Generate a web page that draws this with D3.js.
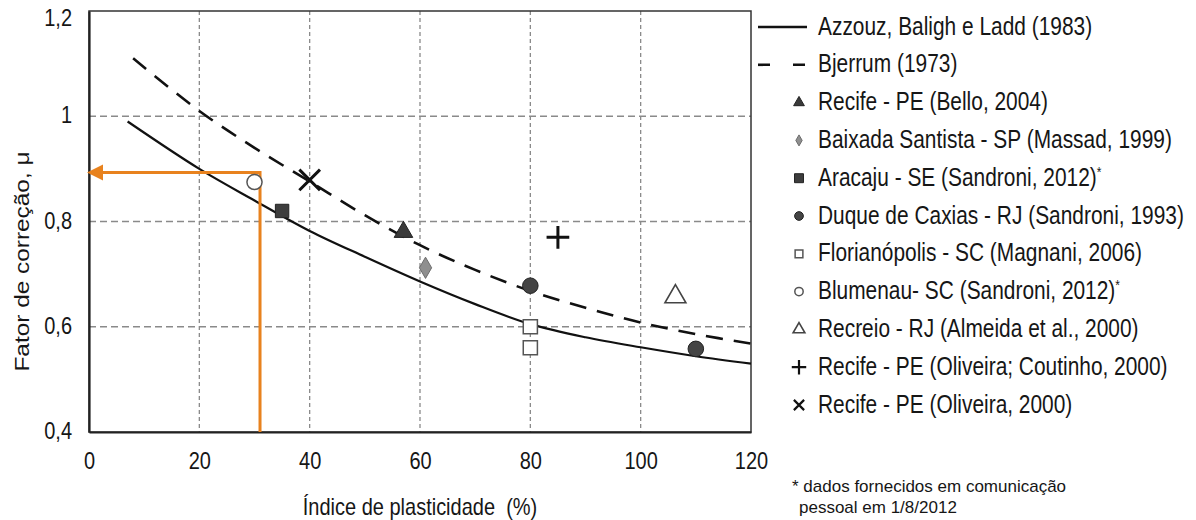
<!DOCTYPE html>
<html>
<head>
<meta charset="utf-8">
<script src="https://cdn.jsdelivr.net/npm/d3@7"></script>
<style>
  html, body { margin: 0; padding: 0; background: #fff; }
  svg { display: block; font-family: "Liberation Sans", Arial, sans-serif; }
</style>
</head>
<body>
<svg id="chart" width="1196" height="520"></svg>
<script>
// Curves
const ipAzzouz = [7, 20, 30, 40, 50, 60, 70, 80, 90, 100, 110, 120];
const muAzzouz = [0.99, 0.90, 0.84, 0.782, 0.733, 0.686, 0.643, 0.605, 0.580, 0.561, 0.544, 0.530];
const ipBjerrum = [8, 20, 30, 40, 50, 60, 70, 80, 90, 100, 110, 120];
const muBjerrum = [1.11, 1.01, 0.94, 0.876, 0.812, 0.755, 0.708, 0.668, 0.636, 0.608, 0.586, 0.568];

// Points
const ipBello = [57], muBello = [0.78];
const ipMassad = [61], muMassad = [0.712];
const ipAracaju = [35], muAracaju = [0.82];
const ipDuque = [80, 110], muDuque = [0.678, 0.558];
const ipFloripa = [80, 80], muFloripa = [0.60, 0.56];
const ipBlumenau = [30], muBlumenau = [0.875];
const ipRecreio = [106.3], muRecreio = [0.657];
const ipCoutinho = [85], muCoutinho = [0.77];
const ipOliveira = [40], muOliveira = [0.879];

// Orange reading guide
const guideIP = 31, guideMu = 0.893;

const xTicks = [0, 20, 40, 60, 80, 100, 120];
const yTicks = [0.4, 0.6, 0.8, 1, 1.2];
const xGrid = [20, 40, 60, 80, 100];
const yGrid = [0.6, 0.8, 1];

const legendLabels = [
  "Azzouz, Baligh e Ladd (1983)",
  "Bjerrum (1973)",
  "Recife - PE (Bello, 2004)",
  "Baixada Santista - SP (Massad, 1999)",
  "Aracaju - SE (Sandroni, 2012)*",
  "Duque de Caxias - RJ (Sandroni, 1993)",
  "Florianópolis - SC (Magnani, 2006)",
  "Blumenau- SC (Sandroni, 2012)*",
  "Recreio - RJ (Almeida et al., 2000)",
  "Recife - PE (Oliveira; Coutinho, 2000)",
  "Recife - PE (Oliveira, 2000)"
];

const svg = d3.select("#chart");
const x = d3.scaleLinear().domain([0, 120]).range([89, 751]);
const y = d3.scaleLinear().domain([0.4, 1.2]).range([432, 11]);

const ink = "#161616";
const stretch = 1.2; // the scan is taller than wide

// grid
svg.append("g").selectAll("line").data(xGrid).join("line")
  .attr("x1", d => x(d)).attr("x2", d => x(d))
  .attr("y1", y(1.2)).attr("y2", y(0.4))
  .attr("stroke", "#8a8a8a").attr("stroke-width", 1.3).attr("stroke-dasharray", "4,3");
svg.append("g").selectAll("line").data(yGrid).join("line")
  .attr("x1", x(0)).attr("x2", x(120))
  .attr("y1", d => y(d)).attr("y2", d => y(d))
  .attr("stroke", "#8a8a8a").attr("stroke-width", 1.3).attr("stroke-dasharray", "7,4");

// frame
svg.append("rect")
  .attr("x", x(0)).attr("y", y(1.2))
  .attr("width", x(120) - x(0)).attr("height", y(0.4) - y(1.2))
  .attr("fill", "none").attr("stroke", "#333").attr("stroke-width", 1.5);

// axes
const xAxis = svg.append("g")
  .attr("transform", `translate(0,${y(0.4)})`)
  .call(d3.axisBottom(x).tickValues(xTicks).tickSize(0).tickPadding(17));
const yAxis = svg.append("g")
  .attr("transform", `translate(${x(0)},0)`)
  .call(d3.axisLeft(y).tickValues(yTicks).tickSize(0).tickPadding(17)
    .tickFormat(d => d === 1 ? "1" : d3.format(".1f")(d).replace(".", ",")));
[xAxis, yAxis].forEach(a => {
  a.select(".domain").attr("stroke", "#222").attr("stroke-width", 2.2);
  a.selectAll("text").attr("font-size", 20).attr("fill", ink)
    .attr("font-family", "Liberation Sans, Arial")
    .attr("transform", `scale(1,${stretch})`);
});
yAxis.selectAll(".tick text").attr("dy", "0.28em");
yAxis.selectAll(".tick text").filter(d => d === 1.2).attr("dy", "0.62em");

// stretched text helper
function label(parent, tx, ty, str, size, anchor, sy) {
  return parent.append("text")
    .attr("transform", `translate(${tx},${ty}) scale(1,${sy || stretch})`)
    .attr("text-anchor", anchor || "start")
    .attr("font-size", size).attr("fill", ink)
    .attr("xml:space", "preserve")
    .text(str);
}

// axis titles
svg.append("text")
  .attr("transform", `translate(29,${(y(0.4) + y(1.2)) / 2 + 40}) rotate(-90) scale(1.22,1)`)
  .attr("text-anchor", "middle").attr("font-size", 20).attr("fill", ink)
  .text("Fator de correção, μ");
label(svg, 420, 515, "Índice de plasticidade  (%)", 20, "middle");

// curves
const line = d3.line().x(d => x(d[0])).y(d => y(d[1])).curve(d3.curveCatmullRom.alpha(0.5));
svg.append("path")
  .attr("d", line(d3.zip(ipAzzouz, muAzzouz)))
  .attr("fill", "none").attr("stroke", "#111").attr("stroke-width", 2.2);
svg.append("path")
  .attr("d", line(d3.zip(ipBjerrum, muBjerrum)))
  .attr("fill", "none").attr("stroke", "#111").attr("stroke-width", 2.6)
  .attr("stroke-dasharray", "17,11");

// orange guide
const orange = "#e8821e";
svg.append("path")
  .attr("d", `M${x(guideIP)},${y(0.4)}V${y(guideMu)}H${x(0) + 12}`)
  .attr("fill", "none").attr("stroke", orange).attr("stroke-width", 3);
svg.append("path")
  .attr("d", `M${x(0) - 2},${y(guideMu)}L${x(0) + 14},${y(guideMu) - 8}L${x(0) + 14},${y(guideMu) + 8}Z`)
  .attr("fill", orange);

// point markers
const specs = [
  { ip: ipBello, mu: muBello, type: d3.symbolTriangle, size: 150, fill: "#3a3a3a", stroke: "#222", sw: 1, lsize: 50 },
  { ip: ipMassad, mu: muMassad, type: d3.symbolDiamond, size: 130, fill: "#8f8f8f", stroke: "#6c6c6c", sw: 1, lsize: 35 },
  { ip: ipAracaju, mu: muAracaju, type: d3.symbolSquare, size: 180, fill: "#3d3d3d", stroke: "#222", sw: 1, lsize: 80 },
  { ip: ipDuque, mu: muDuque, type: d3.symbolCircle, size: 190, fill: "#444", stroke: "#222", sw: 1, lsize: 60 },
  { ip: ipFloripa, mu: muFloripa, type: d3.symbolSquare, size: 200, fill: "#fff", stroke: "#555", sw: 1.5, lsize: 60 },
  { ip: ipBlumenau, mu: muBlumenau, type: d3.symbolCircle, size: 180, fill: "#fff", stroke: "#555", sw: 1.5, lsize: 55 },
  { ip: ipRecreio, mu: muRecreio, type: d3.symbolTriangle, size: 190, fill: "#fff", stroke: "#444", sw: 1.6, lsize: 60 },
  { ip: ipCoutinho, mu: muCoutinho, type: d3.symbolPlus, size: 170, fill: "none", stroke: "#111", sw: 3, lsize: 70 },
  { ip: ipOliveira, mu: muOliveira, type: d3.symbolTimes, size: 280, fill: "none", stroke: "#111", sw: 3, lsize: 70 }
];
specs.forEach(s => {
  svg.append("g").selectAll("path").data(d3.zip(s.ip, s.mu)).join("path")
    .attr("transform", d => `translate(${x(d[0])},${y(d[1])})`)
    .attr("d", d3.symbol().type(s.type).size(s.size))
    .attr("fill", s.fill).attr("stroke", s.stroke).attr("stroke-width", s.sw);
});

// legend
const lg = svg.append("g");
const rowY = i => 27 + i * 37.8;
legendLabels.forEach((d, i) => {
  const t = label(lg, 818, rowY(i) + 7.5, d.replace("*", ""), 20.9);
  if (d.includes("*")) t.append("tspan").attr("font-size", 12).attr("dy", "-0.6em").text("*");
});
lg.append("line").attr("x1", 758).attr("x2", 807).attr("y1", rowY(0)).attr("y2", rowY(0))
  .attr("stroke", "#111").attr("stroke-width", 2.4);
lg.append("line").attr("x1", 758).attr("x2", 807).attr("y1", rowY(1)).attr("y2", rowY(1))
  .attr("stroke", "#111").attr("stroke-width", 2.6).attr("stroke-dasharray", "12,23");
specs.forEach((s, i) => {
  lg.append("path")
    .attr("transform", `translate(799,${rowY(i + 2)})`)
    .attr("d", d3.symbol().type(s.type).size(s.lsize))
    .attr("fill", s.fill).attr("stroke", s.stroke).attr("stroke-width", Math.min(s.sw, 2.2));
});

// footnote
label(svg, 792, 492, "* dados fornecidos em comunicação", 17, "start", 1.0);
label(svg, 799, 513, "pessoal em 1/8/2012", 17, "start", 1.0);
</script>
</body>
</html>
